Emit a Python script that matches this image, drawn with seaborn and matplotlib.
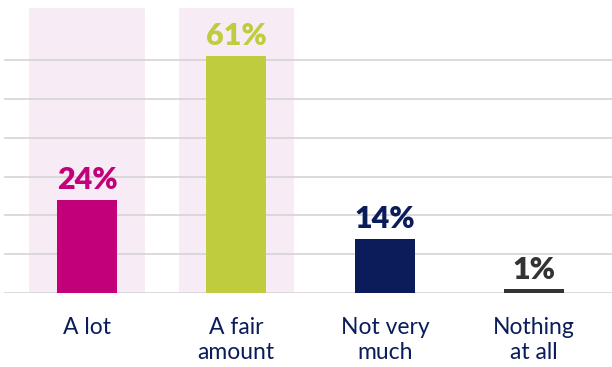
import matplotlib
matplotlib.use("Agg")
import matplotlib.pyplot as plt
import seaborn as sns
import pandas as pd

# Survey responses
categories = ["A lot", "A fair\namount", "Not very\nmuch", "Nothing\nat all"]
values = [24, 61, 14, 1]
colors = ["#C2007A", "#BFCC3E", "#0A1C5A", "#333333"]
highlighted = [True, True, False, False]

sns.set_theme(style="white")
plt.rcParams["font.family"] = ["Lato", "DejaVu Sans"]

df = pd.DataFrame({"category": categories, "value": values})

fig = plt.figure(figsize=(6.12, 3.67), dpi=100)
ax = fig.add_axes([4 / 612, (367 - 293.3) / 367, 608 / 612, (293.3 - 8) / 367])

# Shaded bands behind the highlighted answers
for i, hl in enumerate(highlighted):
    if hl:
        ax.axvspan(i - 0.386, i + 0.386, color="#F7ECF5", zorder=0, lw=0)

sns.barplot(data=df, x="category", y="value", hue="category",
            palette=colors, width=0.403, saturation=1, legend=False,
            linewidth=0, ax=ax, zorder=3)

for i, (v, c) in enumerate(zip(values, colors)):
    ax.annotate(f"{v}%", xy=(i, v), xytext=(0, 4), textcoords="offset points",
                ha="center", va="bottom", color=c, fontsize=22,
                fontweight="heavy")

ax.set_ylim(0, 73.3)
ax.set_xlim(-0.557, 3.523)
ax.set_yticks(range(0, 70, 10))
ax.yaxis.grid(True, color="#D5D3D6", lw=1.2, zorder=1)
ax.set_axisbelow(True)
ax.tick_params(axis="y", left=False, labelleft=False)
ax.tick_params(axis="x", bottom=False, pad=11)
for lbl in ax.get_xticklabels():
    lbl.set_color("#0A1C5A")
    lbl.set_fontsize(16.5)
    lbl.set_verticalalignment("top")
    lbl.set_linespacing(1.25)
for s in ax.spines.values():
    s.set_visible(False)
ax.set_xlabel("")
ax.set_ylabel("")

fig.savefig("out.png", dpi=100)
